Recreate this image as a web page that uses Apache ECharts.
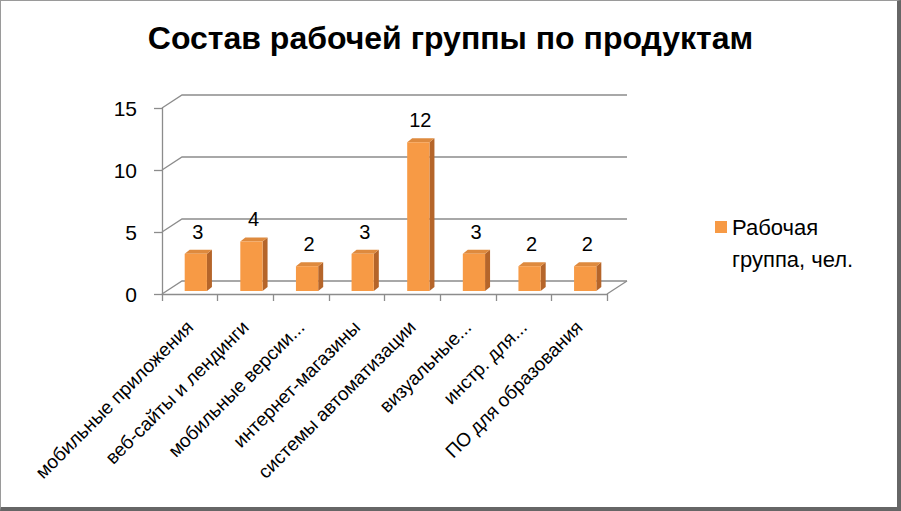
<!DOCTYPE html>
<html>
<head>
<meta charset="utf-8">
<script src="https://cdn.jsdelivr.net/npm/echarts@6/dist/echarts.min.js"></script>
<style>
  html, body { margin: 0; padding: 0; background: #fff; }
  #main { width: 901px; height: 511px; position: relative; }
  #frame { position: absolute; left: 0; top: 0; width: 901px; height: 511px; box-sizing: border-box;
           border-left: 1px solid #9a9a9a; border-top: 1px solid #9a9a9a;
           border-right: 4px solid #666; border-bottom: 4px solid #666; pointer-events: none; }
</style>
</head>
<body>
<div id="main"></div>
<div id="frame"></div>
<script>
// данные диаграммы
var categories = ['мобильные приложения', 'веб-сайты и лендинги', 'мобильные версии...', 'интернет-магазины',
                  'системы автоматизации', 'визуальные...', 'инстр. для...', 'ПО для образования'];
var values = [3, 4, 2, 3, 12, 3, 2, 2];
var yTicks = [0, 5, 10, 15];
var seriesName = 'Рабочая группа, чел.';

var FONT = 'Liberation Sans';
var DEPTH_X = 20, DEPTH_Y = -13;   // смещение задней стенки

var myChart = echarts.init(document.getElementById('main'), null, { renderer: 'svg' });

// сетка "стенок" как в 3D-графике Excel
function renderWalls(params, api) {
    var cs = params.coordSys;
    var v = api.value(0);
    var y = api.coord([0, v])[1];
    var x0 = cs.x, x1 = cs.x + cs.width;
    var st = { stroke: '#8c8c8c', lineWidth: 1.3, fill: null };
    var children = [
        { type: 'polyline', shape: { points: [[x0, y], [x0 + DEPTH_X, y + DEPTH_Y], [x1 + DEPTH_X, y + DEPTH_Y]] }, style: st }
    ];
    if (v === 0) {
        children.push({ type: 'line', shape: { x1: x1, y1: y, x2: x1 + DEPTH_X, y2: y + DEPTH_Y }, style: st });
    }
    return { type: 'group', children: children };
}

function renderBar(params, api) {
    var idx = api.value(0), val = api.value(1);
    var base = api.coord([idx, 0]);
    var top = api.coord([idx, val]);
    var band = api.size([1, 0])[0];
    var w = band * 0.4;
    var dx = 6, dy = -3;          // столбики стоят в середине глубины
    var sx = 5, sy = -4;          // толщина столбика
    var xl = base[0] - w / 2 + dx, xr = xl + w;
    var yb = base[1] + dy, yt = top[1] + dy;
    return {
        type: 'group',
        children: [
            { type: 'polygon', shape: { points: [[xr, yt], [xr + sx, yt + sy], [xr + sx, yb + sy], [xr, yb]] },
              style: { fill: '#b5652a' } },
            { type: 'polygon', shape: { points: [[xl, yt], [xl + sx, yt + sy], [xr + sx, yt + sy], [xr, yt]] },
              style: { fill: '#de8a3e' } },
            { type: 'rect', shape: { x: xl, y: yt, width: w, height: yb - yt },
              style: { fill: '#f79a45' } },
            { type: 'text', x: xl + w / 2 + 2, y: yt - 22,
              style: { text: String(val), fill: '#000', font: '20px "' + FONT + '"', align: 'center', verticalAlign: 'middle' } }
        ]
    };
}

var legendIcon = 'image://data:image/svg+xml;utf8,' + encodeURIComponent(
    '<svg xmlns="http://www.w3.org/2000/svg" width="12" height="44"><rect x="0" y="0" width="12" height="12" fill="#f79a45"/></svg>');

option = {
    backgroundColor: '#fff',
    animation: false,
    title: {
        text: 'Состав рабочей группы по продуктам',
        left: 'center',
        top: 17,
        textStyle: { fontFamily: FONT, fontSize: 32, fontWeight: 'bold', color: '#000' }
    },
    legend: {
        data: [{ name: seriesName, icon: legendIcon }],
        left: 715,
        top: 211,
        padding: 0,
        itemWidth: 12,
        itemHeight: 44,
        itemGap: 8,
        formatter: function () { return 'Рабочая\nгруппа, чел.'; },
        textStyle: { fontFamily: FONT, fontSize: 22, lineHeight: 32, color: '#000' }
    },
    grid: { left: 162, right: 294, top: 108, bottom: 217 },
    xAxis: {
        type: 'category',
        data: categories,
        axisLine: { lineStyle: { color: '#8c8c8c', width: 1.3 } },
        axisTick: { show: true, length: 7, lineStyle: { color: '#8c8c8c', width: 1.3 } },
        axisLabel: { rotate: 45, interval: 0, margin: 30, fontFamily: FONT, fontSize: 19, color: '#000' }
    },
    yAxis: {
        type: 'value',
        min: 0,
        max: 15,
        interval: 5,
        axisLine: { show: true, lineStyle: { color: '#8c8c8c', width: 1.3 } },
        axisTick: { show: true, length: 8, lineStyle: { color: '#8c8c8c', width: 1.3 } },
        axisLabel: { margin: 25, fontFamily: FONT, fontSize: 21, color: '#000' },
        splitLine: { show: false }
    },
    series: [
        {
            type: 'custom',
            silent: true,
            renderItem: renderWalls,
            data: yTicks.map(function (t) { return [t]; }),
            encode: { y: 0 },
            z: 1
        },
        {
            name: seriesName,
            type: 'custom',
            renderItem: renderBar,
            data: values.map(function (v, i) { return [i, v]; }),
            encode: { x: 0, y: 1 },
            itemStyle: { color: '#f79a45' },
            z: 2
        }
    ]
};

myChart.setOption(option);
</script>
</body>
</html>
